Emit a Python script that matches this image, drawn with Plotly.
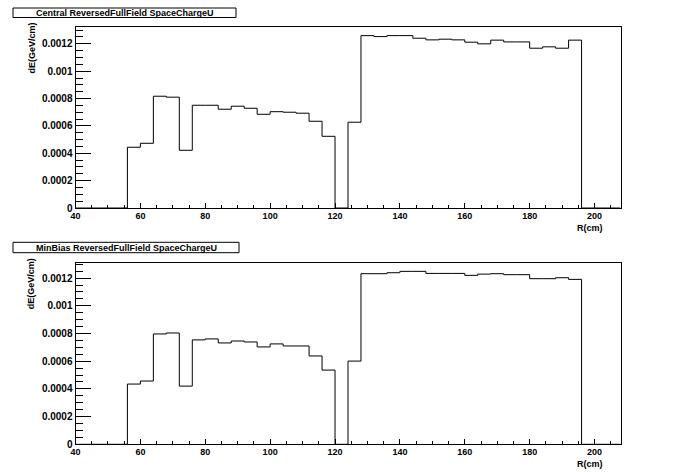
import plotly.graph_objects as go

# ---------------- data ----------------
bin_start_cm = 56          # first filled bin lower edge
bin_width_cm = 4
central_dE = [0.000444, 0.000473, 0.000817, 0.000810, 0.000422, 0.000751, 0.000751,
              0.000722, 0.000744, 0.000729, 0.000685, 0.000704, 0.000700, 0.000693,
              0.000634, 0.000524, 0.0, 0.000627,
              0.001260, 0.001253, 0.001260, 0.001260, 0.001241, 0.001229, 0.001234,
              0.001229, 0.001212, 0.001200, 0.001227, 0.001214, 0.001214, 0.001168,
              0.001178, 0.001168, 0.001227]
minbias_dE = [0.000435, 0.000457, 0.000797, 0.000804, 0.000420, 0.000754, 0.000761,
              0.000732, 0.000746, 0.000739, 0.000703, 0.000725, 0.000710, 0.000710,
              0.000638, 0.000536, 0.0, 0.000601,
              0.001232, 0.001232, 0.001239, 0.001249, 0.001249, 0.001234, 0.001234,
              0.001234, 0.001220, 0.001229, 0.001232, 0.001225, 0.001225, 0.001196,
              0.001196, 0.001203, 0.001191]
titles = ["Central ReversedFullField SpaceChargeU", "MinBias ReversedFullField SpaceChargeU"]
x_range = [40, 208]
x_ticks = [40, 60, 80, 100, 120, 140, 160, 180, 200]
y_ticks = [0, 0.0002, 0.0004, 0.0006, 0.0008, 0.001, 0.0012]
y_tick_text = ["0", "0.0002", "0.0004", "0.0006", "0.0008", "0.001", "0.0012"]
y_title = "dE(GeV/cm)"
x_title = "R(cm)"

W, H = 696, 472
FONT = "Liberation Sans"


def px_x(p):
    return p / W


def px_y(p):
    return 1 - p / H


def step_xy(vals):
    xs, ys = [x_range[0]], [0.0]
    xs.append(bin_start_cm)
    ys.append(0.0)
    for i, v in enumerate(vals):
        xs.append(bin_start_cm + i * bin_width_cm)
        ys.append(v)
    end = bin_start_cm + len(vals) * bin_width_cm
    xs += [end, end, x_range[1]]
    ys += [vals[-1], 0.0, 0.0]
    return xs, ys


fig = go.Figure()

panels = [
    dict(vals=central_dE, frame=(27, 208), box=(13, 8, 236, 17.5), xt_y=227.5, ymax=max(central_dE) * 1.05),
    dict(vals=minbias_dE, frame=(262.7, 444.3), box=(13, 242.3, 239, 252.7), xt_y=463.5, ymax=max(minbias_dE) * 1.05),
]

x_left, x_right = 75.5, 620.5
tickfont = dict(family=FONT, size=10, color="black", weight="bold")

for k, p in enumerate(panels):
    n = "" if k == 0 else str(k + 1)
    xs, ys = step_xy(p["vals"])
    fig.add_trace(go.Scatter(x=xs, y=ys, mode="lines", line=dict(color="black", width=1, shape="hv"),
                             xaxis="x" + n, yaxis="y" + n, showlegend=False, hoverinfo="skip"))
    top, bot = p["frame"]
    fig.layout["xaxis" + n] = dict(
        domain=[px_x(x_left), px_x(x_right)], range=x_range, anchor="y" + n,
        showline=True, linecolor="black", linewidth=1, mirror=True,
        showgrid=False, zeroline=False,
        tickvals=x_ticks, ticks="inside", ticklen=5, tickcolor="black", tickwidth=1,
        ticklabelstandoff=-1,
        minor=dict(dtick=5, tick0=40, ticks="inside", ticklen=3, tickcolor="black", showgrid=False),
        tickfont=dict(family=FONT, size=9, color="black", weight="bold"),
    )
    fig.layout["yaxis" + n] = dict(
        domain=[px_y(bot), px_y(top)], range=[0, p["ymax"]], anchor="x" + n,
        showline=True, linecolor="black", linewidth=1, mirror=True,
        showgrid=False, zeroline=False,
        tickvals=y_ticks, ticktext=y_tick_text, ticks="inside", ticklen=15, tickcolor="black", tickwidth=1,
        minor=dict(dtick=0.00005, tick0=0, ticks="inside", ticklen=7, tickcolor="black", showgrid=False),
        tickfont=tickfont,
    )
    # title box
    bx0, by0, bx1, by1 = p["box"]
    fig.add_shape(type="rect", xref="paper", yref="paper",
                  x0=px_x(bx0), x1=px_x(bx1), y0=px_y(by1), y1=px_y(by0),
                  line=dict(color="black", width=1), fillcolor="white", layer="above")
    fig.add_annotation(text=titles[k], xref="paper", yref="paper",
                       x=px_x((bx0 + bx1) / 2), y=px_y((by0 + by1) / 2),
                       xanchor="center", yanchor="middle", showarrow=False,
                       font=dict(family=FONT, size=9, color="black", weight="bold"))
    # y title
    fig.add_annotation(text=y_title, xref="paper", yref="paper",
                       x=px_x(31), y=px_y(top - 6), xanchor="center", yanchor="top",
                       textangle=-90, showarrow=False,
                       font=dict(family=FONT, size=9, color="black", weight="bold"))
    # x title
    fig.add_annotation(text=x_title, xref="paper", yref="paper",
                       x=px_x(605), y=px_y(p["xt_y"]), xanchor="right", yanchor="middle",
                       showarrow=False,
                       font=dict(family=FONT, size=9, color="black", weight="bold"))

fig.update_layout(width=W, height=H, margin=dict(l=0, r=0, t=0, b=0, autoexpand=False),
                  paper_bgcolor="white", plot_bgcolor="white", showlegend=False)

fig.write_html("out.html", config={"displayModeBar": False, "staticPlot": True},
               post_script="document.body.style.margin='0';document.body.style.padding='0';")
